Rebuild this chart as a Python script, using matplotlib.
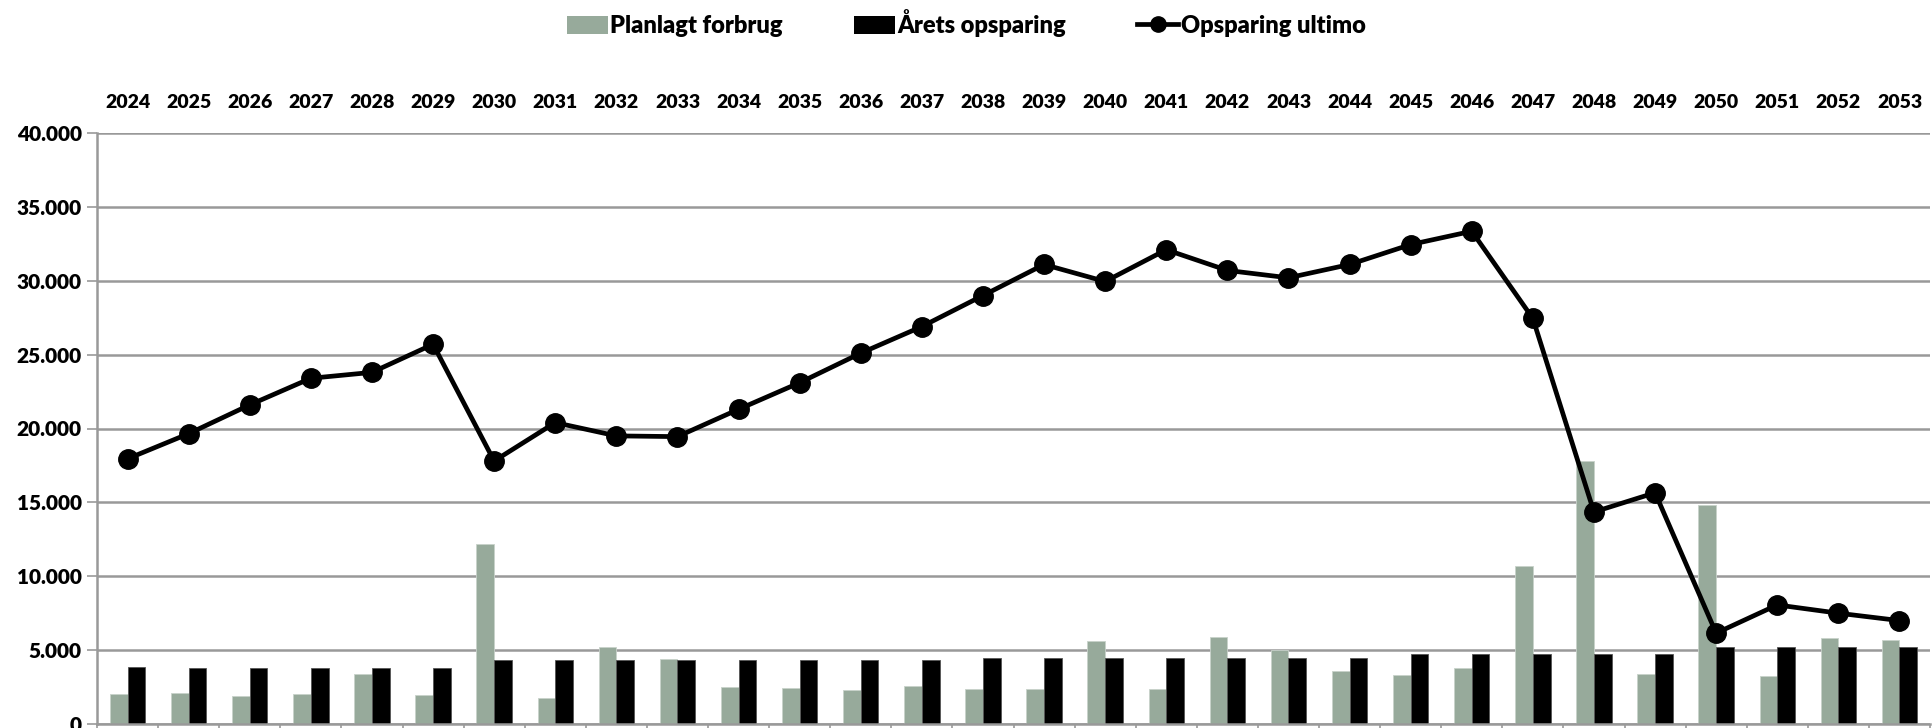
import matplotlib.pyplot as plt
import numpy as np
from matplotlib.ticker import FuncFormatter, FixedLocator
from matplotlib.lines import Line2D
from matplotlib.patches import Patch

plt.rcParams['font.family'] = ['Lato', 'DejaVu Sans']
plt.rcParams['font.weight'] = 'heavy'

# Data
years = list(range(2024, 2054))
planlagt = [2040, 2080, 1880, 2040, 3370, 1950, 12200, 1760, 5180, 4390,
            2530, 2440, 2310, 2560, 2380, 2350, 5630, 2350, 5880, 5020,
            3620, 3330, 3820, 10680, 17800, 3370, 14800, 3240, 5790, 5680]
aarets = [3890, 3820, 3820, 3820, 3820, 3820, 4340, 4340, 4340, 4320,
          4340, 4340, 4340, 4340, 4480, 4480, 4480, 4480, 4480, 4480,
          4480, 4710, 4710, 4710, 4710, 4710, 5200, 5200, 5200, 5200]
ultimo = [17950, 19650, 21600, 23400, 23800, 25700, 17800, 20400, 19500, 19450,
          21300, 23100, 25100, 26900, 29000, 31100, 29950, 32100, 30700, 30200,
          31100, 32450, 33350, 27450, 14350, 15650, 6150, 8060, 7500, 7000]

green = '#97AA9B'
x = np.arange(len(years))
w = 0.29

fig = plt.figure(figsize=(19.32, 7.28), dpi=100)
ax = fig.add_axes([97 / 1932, 4 / 728, 1833 / 1932, (724 - 133) / 728])

ax.bar(x - w / 2, planlagt, width=w, color=green, edgecolor='#C8D2CA', linewidth=0.6, zorder=2)
ax.bar(x + w / 2, aarets, width=w, color='black', edgecolor='#555555', linewidth=0.6, zorder=2)
ax.plot(x, ultimo, color='black', lw=3.4, marker='o', markersize=14, zorder=3)

ax.set_xlim(-0.5, len(years) - 0.5)
ax.set_ylim(0, 40000)
ax.set_yticks(np.arange(0, 40001, 5000))
ax.yaxis.set_major_formatter(FuncFormatter(lambda v, p: f"{int(v):,}".replace(',', '.')))
ax.yaxis.grid(True, color='#999999', lw=1.8, zorder=0)
ax.set_axisbelow(True)

# year labels on top, category separators at the bottom
ax.set_xticks(x)
ax.set_xticklabels([str(y) for y in years])
ax.xaxis.set_minor_locator(FixedLocator(np.arange(-0.5, len(years), 1.0)))
ax.tick_params(axis='x', which='major', top=True, labeltop=True, bottom=False,
               labelbottom=False, length=0, pad=16, labelsize=14)
ax.tick_params(axis='x', which='minor', bottom=True, top=False, length=7,
               width=1.2, color='#999999', direction='out')
ax.tick_params(axis='y', length=7, width=1.2, color='#999999', labelsize=15, pad=4)

for s in ['top', 'right']:
    ax.spines[s].set_visible(False)
for s in ['left', 'bottom']:
    ax.spines[s].set_color('#999999')
    ax.spines[s].set_linewidth(1.8)

handles = [
    Patch(facecolor=green, edgecolor='none', label='Planlagt forbrug'),
    Patch(facecolor='black', edgecolor='none', label='Årets opsparing'),
    Line2D([0], [0], color='black', lw=3.4, marker='o', markersize=11, label='Opsparing ultimo'),
]
fig.legend(handles=handles, loc='center', bbox_to_anchor=(0.5, 1 - 23 / 728), ncol=3,
           frameon=False, fontsize=17, handlelength=1.75, handleheight=0.8,
           handletextpad=0.1, columnspacing=3.0)

fig.savefig('out.png', dpi=100)
